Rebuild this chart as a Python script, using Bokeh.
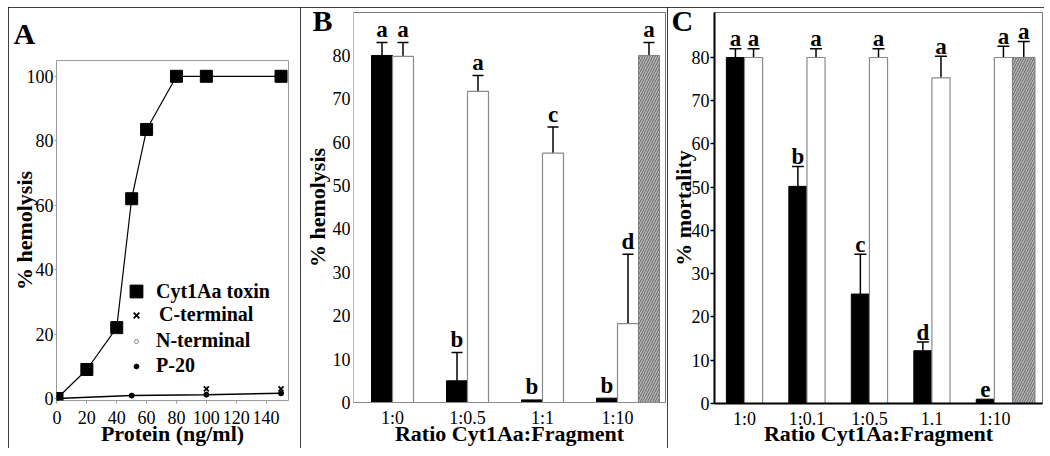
from bokeh.plotting import figure
from bokeh.layouts import row, column
from bokeh.models import (ColumnDataSource, Whisker, TeeHead, Legend, Title,
                          LegendItem, FixedTicker, Range1d, Spacer)
from bokeh.core.properties import value
from bokeh.embed import file_html
from bokeh.resources import INLINE

FONT = "Liberation Serif"

# ---------------- Panel A data ----------------
protein = [0, 20, 40, 50, 60, 80, 100, 150]
cyt1aa_hemolysis = [0, 9, 22, 62, 83.5, 100, 100, 100]
cterm_protein = [100, 150]
cterm_hemolysis = [3, 3]
nterm_protein = [0, 50, 100, 150]
nterm_hemolysis = [0, 0.9, 1.2, 1.6]
p20_protein = [0, 50, 100, 150]
p20_hemolysis = [0, 0.9, 1.2, 1.6]
a_xticks = [0, 20, 40, 60, 80, 100, 120, 140]
a_yticks = [0, 20, 40, 60, 80, 100]
a_series = ["Cyt1Aa toxin", "C-terminal", "N-terminal", "P-20"]

# ---------------- Panel B data ----------------
b_ratios = ["1:0", "1:0.5", "1:1", "1:10"]
b_cyt = [80, 5, 0.6, 1]
b_cyt_err = [3, 6.5, 0, 0]
b_cyt_letters = ["a", "b", "b", "b"]
b_frag = [79.8, 71.7, 57.5, 18.2]
b_frag_err = [3.2, 3.7, 6, 16]
b_frag_letters = ["a", "a", "c", "d"]
b_ctrl = [80]
b_ctrl_err = [3]
b_ctrl_letters = ["a"]
b_yticks = [0, 10, 20, 30, 40, 50, 60, 70, 80]

# ---------------- Panel C data ----------------
c_ratios = ["1:0", "1:0.1", "1:0.5", "1.1", "1:10"]
c_cyt = [80, 50.2, 25.3, 12.2, 1]
c_cyt_err = [2, 4.6, 9.2, 2, 0]
c_cyt_letters = ["a", "b", "c", "d", "e"]
c_frag = [80, 80, 80, 75.3, 80]
c_frag_err = [2, 2, 2, 5, 2.6]
c_frag_letters = ["a", "a", "a", "a", "a"]
c_ctrl = [80]
c_ctrl_err = [3.7]
c_ctrl_letters = ["a"]
c_yticks = [0, 10, 20, 30, 40, 50, 60, 70, 80]

PANEL_STYLE = {"outline": "1.5px solid black", "outline-offset": "-1px"}


def style_axis(ax, label, tick_size="18px", label_size="22px"):
    ax.axis_label = label
    ax.axis_label_text_font = FONT
    ax.axis_label_text_font_style = "bold"
    ax.axis_label_text_font_size = label_size
    ax.major_label_text_font = FONT
    ax.major_label_text_font_size = tick_size
    ax.major_label_text_color = "black"
    ax.axis_label_text_color = "black"
    ax.minor_tick_line_color = None


def letter_title(text, offset, vertical_align, standoff, line_height=1.0):
    return Title(text=text, align="left", offset=offset, vertical_align=vertical_align,
                 standoff=standoff, text_font=FONT, text_font_style="bold",
                 text_font_size="30px", text_color="black", text_line_height=line_height)


# ================= Panel A =================
pa = figure(width=292, height=441, output_backend="svg", toolbar_location=None,
            x_range=Range1d(-0.33, 155), y_range=Range1d(-0.62, 104.9),
            min_border_left=47, min_border_right=12, min_border_top=51, min_border_bottom=48,
            frame_align=False)
pa.styles = PANEL_STYLE
pa.background_fill_color = "white"
pa.border_fill_color = "white"
pa.outline_line_color = "#9a9a9a"
pa.outline_line_width = 1
pa.grid.visible = False

pa.line(protein, cyt1aa_hemolysis, line_color="black", line_width=1.2)
pa.line(p20_protein, p20_hemolysis, line_color="black", line_width=1.5)
r_cyt = pa.scatter(protein, cyt1aa_hemolysis, marker="square", size=12, color="black")
r_n = pa.scatter(nterm_protein, nterm_hemolysis, marker="circle", size=4,
                 fill_color=None, line_color="#888888")
r_c = pa.scatter(cterm_protein, cterm_hemolysis, marker="x", size=7,
                 line_color="black", line_width=1.8)
r_p = pa.scatter(p20_protein, p20_hemolysis, marker="circle", size=5, color="black")

# one legend per series so that each symbol keeps its own size
FRAME_LEFT_A = 57
GLYPH_CX = 137
LABEL_X = 157
for label, rend, gw, yc, extra in [(a_series[0], r_cyt, 32, 291, 0),
                                   (a_series[1], r_c, 20, 316, 3),
                                   (a_series[2], r_n, 10, 342, 0),
                                   (a_series[3], r_p, 12, 367, 0)]:
    h = max(gw, 20)
    lg = Legend(items=[LegendItem(label=label, renderers=[rend])],
                location=(GLYPH_CX - gw / 2 - FRAME_LEFT_A, 400 - (yc + h / 2)),
                glyph_width=gw, glyph_height=gw, label_height=20,
                label_standoff=int(LABEL_X + extra - (GLYPH_CX + gw / 2)),
                spacing=0, padding=0, margin=0,
                border_line_color=None, background_fill_alpha=0,
                label_text_font=FONT, label_text_font_style="bold",
                label_text_font_size="20px", label_text_color="black")
    pa.add_layout(lg, "center")

pa.xaxis.ticker = FixedTicker(ticks=a_xticks)
pa.yaxis.ticker = FixedTicker(ticks=a_yticks)
style_axis(pa.xaxis[0], "Protein (ng/ml)")
style_axis(pa.yaxis[0], "% hemolysis")
for ax in (pa.xaxis[0], pa.yaxis[0]):
    ax.axis_line_color = None
    ax.major_tick_line_color = "#9a9a9a"
    ax.major_tick_in = 0
pa.xaxis.major_tick_out = 3
pa.xaxis.major_label_standoff = 7
pa.xaxis.axis_label_standoff = -6
pa.yaxis.major_tick_out = 2
pa.yaxis.major_label_standoff = 1
pa.yaxis.axis_label_standoff = -13
pa.add_layout(letter_title("A", -43, "top", 18), "above")


# ================= Bar panels =================
def bar_panel(width, left, bottom, right, xr, yr, bw, cw, ratios, cyt, cyt_err, cyt_let,
              frag, frag_err, frag_let, ctrl, ctrl_err, ctrl_let, yticks, ylabel,
              cap, letter_off, dark_axes):
    p = figure(width=width, height=441, output_backend="svg", toolbar_location=None,
               x_range=Range1d(*xr), y_range=Range1d(*yr),
               min_border_left=left, min_border_right=right,
               min_border_top=5, min_border_bottom=bottom, frame_align=False)
    p.styles = PANEL_STYLE
    p.background_fill_color = "white"
    p.border_fill_color = "white"
    p.grid.visible = False
    p.outline_line_color = "#777777"
    p.outline_line_width = 1

    n = len(ratios)
    gx = list(range(n))
    cx = [g - bw / 2 for g in gx]
    fx = [g + bw / 2 for g in gx]
    last = n - 1
    hx = [last + bw + cw / 2]

    p.vbar(x=cx, top=cyt, bottom=0, width=bw, fill_color="black", line_color="black")
    p.vbar(x=fx, top=frag, bottom=0, width=bw, fill_color="white", line_color="#8a8a8a",
           line_width=1.2)
    p.vbar(x=hx, top=ctrl, bottom=0, width=cw, fill_color="#b8b8b8", line_color="#808080",
           hatch_pattern="/", hatch_color="#5a5a5a", hatch_scale=5, hatch_weight=0.9)

    xs, tops, ups, lx, ly, letters = [], [], [], [], [], []
    for xv, v, e, l in list(zip(cx, cyt, cyt_err, cyt_let)) + \
            list(zip(fx, frag, frag_err, frag_let)) + list(zip(hx, ctrl, ctrl_err, ctrl_let)):
        if e > 0:
            xs.append(xv); tops.append(v); ups.append(v + e)
        lx.append(xv); ly.append(v + e); letters.append(l)

    src = ColumnDataSource(dict(x=xs, lower=tops, upper=ups))
    p.add_layout(Whisker(source=src, base="x", lower="lower", upper="upper",
                         line_color="black", line_width=1.5, lower_head=None,
                         upper_head=TeeHead(size=cap, line_color="black", line_width=1.5)))
    p.text(x=lx, y=ly, text=letters,
           text_font=value(FONT), text_font_style="bold", text_font_size="23px",
           text_align="center", text_baseline="alphabetic", y_offset=letter_off,
           text_color="black")

    p.xaxis.ticker = FixedTicker(ticks=gx)
    p.xaxis.major_label_overrides = {i: r for i, r in enumerate(ratios)}
    p.yaxis.ticker = FixedTicker(ticks=yticks)
    style_axis(p.xaxis[0], "Ratio Cyt1Aa:Fragment")
    style_axis(p.yaxis[0], ylabel)
    p.xaxis.major_tick_line_color = None
    p.xaxis.major_tick_out = 0
    p.xaxis.major_tick_in = 0
    p.xaxis.major_label_standoff = 5
    if dark_axes:
        p.xaxis.axis_label_standoff = -11
        p.xaxis.axis_line_color = "black"
        p.xaxis.axis_line_width = 2
        p.yaxis.axis_line_color = "black"
        p.yaxis.axis_line_width = 2
        p.yaxis.major_tick_line_color = "black"
        p.yaxis.major_tick_line_width = 1.5
        p.yaxis.major_tick_out = 4
        p.yaxis.major_tick_in = 0
        p.yaxis.major_label_standoff = 1
        p.yaxis.axis_label_standoff = -7
    else:
        p.xaxis.axis_label_standoff = -10
        p.xaxis.axis_line_color = "#8a8a8a"
        p.yaxis.axis_line_color = "#bbbbbb"
        p.yaxis.major_tick_line_color = None
        p.yaxis.major_tick_out = 0
        p.yaxis.major_tick_in = 0
        p.yaxis.major_label_standoff = 3
        p.yaxis.axis_label_standoff = 0
    return p


pb = bar_panel(367, 53, 46, 2, (-0.52, 3.64), (0, 89.9), 0.28, 0.28, b_ratios,
               b_cyt, b_cyt_err, b_cyt_letters, b_frag, b_frag_err, b_frag_letters,
               b_ctrl, b_ctrl_err, b_ctrl_letters, b_yticks, "% hemolysis", 11, -13, False)
pb.add_layout(letter_title("\nB", -41, "bottom", -50, 0.6), "above")

pc = bar_panel(377, 46, 45, 2, (-0.48, 4.77), (0, 90.4), 0.29, 0.36, c_ratios,
               c_cyt, c_cyt_err, c_cyt_letters, c_frag, c_frag_err, c_frag_letters,
               c_ctrl, c_ctrl_err, c_ctrl_letters, c_yticks, "% mortality", 12, -10, True)
pc.add_layout(letter_title("\nC", -43, "bottom", -50, 0.6), "above")

layout = column(Spacer(height=7),
                row(Spacer(width=8), pa, pb, pc, spacing=0), spacing=0)
open("out.html", "w").write(file_html(layout, INLINE))
